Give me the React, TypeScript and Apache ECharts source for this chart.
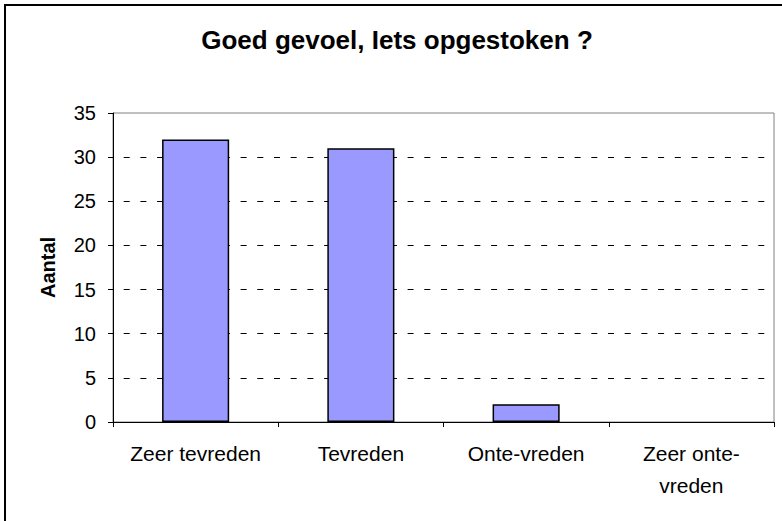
import React, { useEffect, useRef } from "react";
import * as echarts from "echarts";

const titleText = "Goed gevoel, Iets opgestoken ?";
const yAxisName = "Aantal";
const categories = ["Zeer tevreden", "Tevreden", "Onte-vreden", "Zeer onte-\nvreden"];
const counts = [32, 31, 2, 0];
const yMin = 0;
const yMax = 35;
const yStep = 5;

const FONT = '"Liberation Sans", Arial, sans-serif';

export default function App() {
  const ref = useRef<HTMLDivElement>(null);
  useEffect(() => {
    if (!ref.current) return;
    const chart = echarts.init(ref.current, null, { renderer: "svg" });
    chart.setOption({
      animation: false,
      backgroundColor: "#ffffff",
      textStyle: { fontFamily: FONT, color: "#000" },
      grid: {
        left: 113,
        top: 113,
        right: 8,
        bottom: 99,
        show: true,
        borderColor: "#808080",
        borderWidth: 1,
        backgroundColor: "transparent",
      },
      graphic: [
        {
          type: "rect",
          shape: { x: 5, y: 5, width: 1000, height: 1000 },
          style: { fill: "none", stroke: "#000", lineWidth: 2 },
          silent: true,
          z: 100,
        },
        {
          type: "text",
          x: 397,
          y: 39.5,
          style: {
            text: titleText,
            fontFamily: FONT,
            fontSize: 26,
            fontWeight: "bold",
            fill: "#000",
            align: "center",
            verticalAlign: "middle",
            textAlign: "center",
            textVerticalAlign: "middle",
          },
        },
      ],
      xAxis: {
        type: "category",
        data: categories,
        boundaryGap: true,
        axisLine: { show: true, lineStyle: { color: "#000", width: 1 } },
        axisTick: { show: true, inside: false, length: 5, alignWithLabel: false, lineStyle: { color: "#000" } },
        axisLabel: {
          color: "#000",
          fontFamily: FONT,
          fontSize: 21,
          lineHeight: 32,
          margin: 15,
          interval: 0,
        },
        splitLine: { show: false },
      },
      yAxis: {
        type: "value",
        min: yMin,
        max: yMax,
        interval: yStep,
        name: yAxisName,
        nameLocation: "middle",
        nameGap: 55,
        nameTextStyle: { fontFamily: FONT, fontSize: 20, fontWeight: "bold", color: "#000" },
        axisLine: { show: true, lineStyle: { color: "#000", width: 1 } },
        axisTick: { show: true, inside: false, length: 5, lineStyle: { color: "#000" } },
        axisLabel: { color: "#000", fontFamily: FONT, fontSize: 20, margin: 17 },
        splitLine: {
          show: true,
          showMinLine: false,
          showMaxLine: false,
          lineStyle: { color: "#000", width: 1, type: [6, 10.7], dashOffset: 6.4 },
        },
      },
      series: [
        {
          type: "bar",
          data: counts.map((v) => ({
            value: v,
            itemStyle: v === 0 ? { borderWidth: 0, color: "transparent" } : undefined,
          })),
          barWidth: "40.6%",
          itemStyle: { color: "#9999FF", borderColor: "#000", borderWidth: 1.5 },
        },
      ],
    });
    return () => chart.dispose();
  }, []);
  return (
    <div
      ref={ref}
      style={{ position: "fixed", left: 0, top: 0, width: 782, height: 521 }}
    />
  );
}
